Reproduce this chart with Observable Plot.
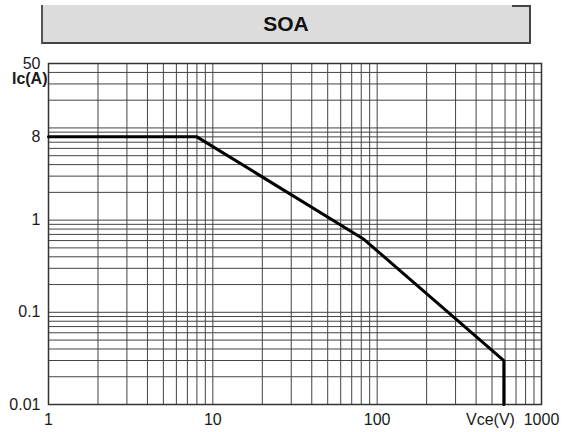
<!DOCTYPE html>
<html>
<head>
<meta charset="utf-8">
<script src="https://cdn.jsdelivr.net/npm/d3@7"></script>
<script src="https://cdn.jsdelivr.net/npm/@observablehq/plot@0.6"></script>
<style>
  html, body { margin: 0; padding: 0; background: #fff; }
  #wrap { position: relative; width: 566px; height: 432px; font-family: "Liberation Sans", Arial, sans-serif; }
  #title {
    position: absolute; left: 41px; top: 5px; width: 486px; height: 37px;
    background: #dcdcdc; border-left: 2px solid #555; border-bottom: 2px solid #444; border-right: 2px solid #444;
    font-weight: bold; font-size: 21px; color: #111; text-align: center; line-height: 37px;
  }
  #titleTop { position: absolute; left: 512px; top: 5px; width: 18px; height: 2px; background: #444; }
  #chart { position: absolute; left: 0; top: 0; }
</style>
</head>
<body>
<div id="wrap">
  <div id="chart"></div>
  <div id="title">SOA</div>
  <div id="titleTop"></div>
</div>
<script>
// SOA curve (Vce in V, Ic in A)
const vce = [1, 8, 83, 590, 590];
const ic  = [8, 8, 0.62, 0.03, 0.01];

// tick labels
const xTickValues = [1, 10, 100, 1000];
const xTickLabels = ["1", "10", "100", "1000"];
const yTickValues = [0.01, 0.1, 1, 8, 50];
const yTickLabels = ["0.01", "0.1", "1", "8", "50"];
const xAxisTitle = "Vce(V)";
const yAxisTitle = "Ic(A)";

// grid positions (1..9 per decade)
const mult = [1, 2, 3, 4, 5, 6, 7, 8, 9];
const xGrid = [1, 10, 100].flatMap(d => mult.map(m => m * d)).concat([1000]);
const yGrid = [0.01, 0.1, 1, 10].flatMap(d => mult.map(m => +(m * d).toPrecision(3))).filter(v => v <= 50);

const data = vce.map((v, i) => ({vce: v, ic: ic[i]}));
const xTicks = xTickValues.map((v, i) => ({v, label: xTickLabels[i]}));
const yTicks = yTickValues.map((v, i) => ({v, label: yTickLabels[i]}));

const chart = Plot.plot({
  width: 566,
  height: 432,
  marginLeft: 48,
  marginRight: 25,
  marginTop: 63,
  marginBottom: 28,
  style: {fontFamily: "Liberation Sans, Arial, sans-serif", fontSize: "16px", color: "#1a1a1a", background: "transparent"},
  x: {type: "log", domain: [1, 1000], axis: null},
  y: {type: "log", domain: [0.01, 50], axis: null},
  marks: [
    Plot.gridX(xGrid, {stroke: "#444", strokeOpacity: 1, strokeWidth: 1}),
    Plot.gridY(yGrid, {stroke: "#444", strokeOpacity: 1, strokeWidth: 1}),
    Plot.frame({stroke: "#333", strokeWidth: 1.5}),
    Plot.line(data, {x: "vce", y: "ic", stroke: "#000", strokeWidth: 3}),
    Plot.text(xTicks, {x: "v", text: "label", frameAnchor: "bottom", lineAnchor: "top", dy: 9, fontSize: 16, fill: "#1a1a1a"}),
    Plot.text(yTicks, {y: "v", text: "label", frameAnchor: "left", textAnchor: "end", dx: -8, fontSize: 16, fill: "#1a1a1a"}),
    Plot.text([xAxisTitle], {frameAnchor: "bottom-right", lineAnchor: "top", dx: -51, dy: 9, textAnchor: "middle", fontSize: 16, fill: "#1a1a1a", text: d => d}),
    Plot.text([yAxisTitle], {frameAnchor: "top-left", dx: -1, dy: 9, textAnchor: "end", fontSize: 16, fontWeight: "bold", fill: "#1a1a1a", text: d => d})
  ]
});
document.getElementById("chart").appendChild(chart);
</script>
</body>
</html>
